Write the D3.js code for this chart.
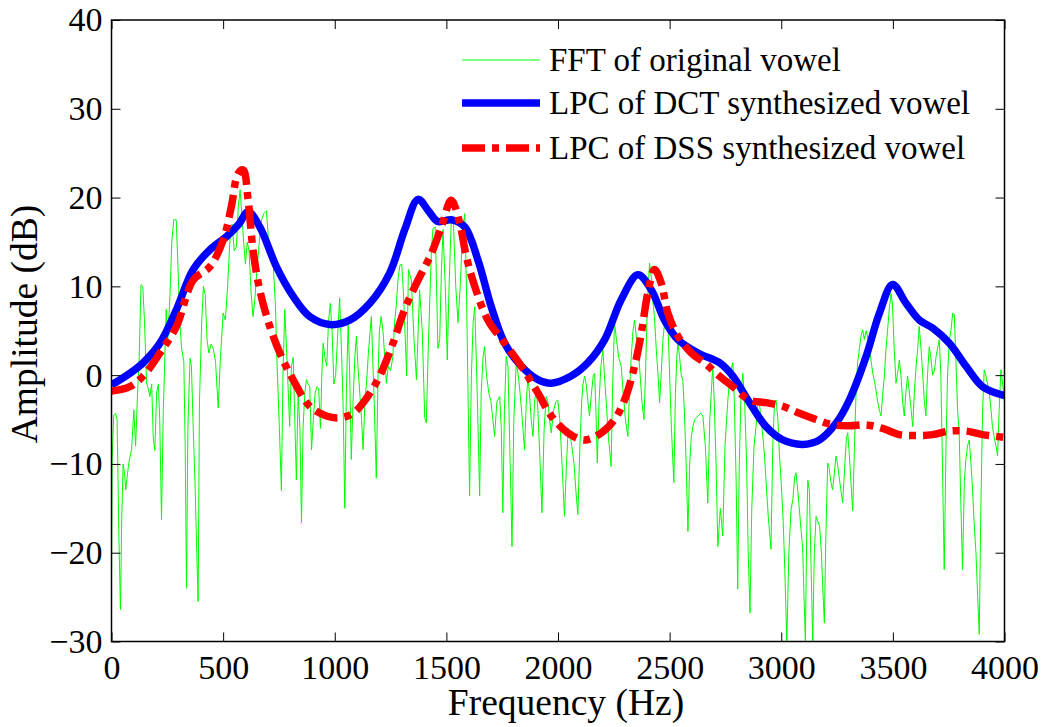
<!DOCTYPE html>
<html>
<head>
<meta charset="utf-8">
<script src="https://cdn.jsdelivr.net/npm/d3@7"></script>
<style>
  body { margin: 0; background: #fff; }
  svg { display: block; }
</style>
</head>
<body>
<script>
(function(window){
    'use strict'

    // ---- data ----
    var xTicks = [0, 500, 1000, 1500, 2000, 2500, 3000, 3500, 4000];
    var yTicks = [-30, -20, -10, 0, 10, 20, 30, 40];

    var seriesNames = ['FFT of original vowel', 'LPC of DCT synthesized vowel', 'LPC of DSS synthesized vowel'];

    var fftFreq = [0,3,10,18,25,33,40,46,52,58,64,72,80,90,100,108,116,124,132,140,148,157,165,172,180,187,194,202,210,216,224,232,245,252,262,270,279,290,298,306,314,324,330,336,342,352,358,366,374,382,388,394,404,412,420,428,436,446,456,466,478,488,500,510,520,530,540,550,560,568,576,584,592,600,608,616,626,634,642,652,662,672,682,694,704,714,724,734,742,752,761,768,776,784,792,798,806,814,820,828,836,844,851,858,866,873,880,888,896,904,912,920,928,936,942,948,956,964,972,980,988,996,1004,1012,1022,1030,1038,1045,1052,1060,1067,1074,1082,1090,1097,1104,1112,1120,1127,1135,1142,1152,1164,1170,1178,1186,1194,1200,1208,1216,1224,1231,1240,1250,1260,1268,1276,1284,1292,1300,1308,1316,1322,
        1330,1343,1355,1366,1380,1392,1403,1410,1420,1433,1440,1450,1456,1462,1470,1478,1485,1495,1504,1512,1522,1532,1542,1552,1562,1572,1582,1590,1597,1604,1612,1620,1627,1636,1642,1649,1656,1664,1671,1680,1690,1700,1708,1716,1726,1739,1746,1753,1760,1768,1776,1784,1794,1802,1813,1822,1830,1840,1850,1858,1865,1872,1880,1888,1895,1903,1910,1920,1928,1938,1947,1955,1962,1970,1980,1990,1999,2008,2018,2029,2038,2046,2052,2062,2072,2080,2089,2098,2106,2112,2119,2126,2134,2141,2150,2158,2164,2170,2176,2184,2192,2201,2208,2216,2226,2238,2244,2253,2262,2272,2283,2292,2302,2313,2320,2328,2336,2343,2352,2360,2368,2376,2385,2392,2400,2410,2418,2426,2432,2440,2448,2455,2462,2470,2478,2485,2492,2500,2508,2519,2526,2532,2537,2545,2552,2559,2566,2574,2582,2590,2597,2604,2612,2620,2630,2641,
        2649,2660,2671,2680,2693,2700,2708,2716,2727,2738,2748,2760,2770,2783,2790,2798,2805,2812,2820,2828,2836,2845,2852,2860,2868,2878,2887,2894,2902,2910,2918,2925,2932,2942,2954,2962,2970,2977,2985,2992,2999,3008,3016,3025,3034,3044,3052,3060,3066,3074,3084,3096,3102,3108,3114,3119,3126,3134,3141,3148,3156,3164,3172,3180,3186,3193,3200,3208,3215,3222,3230,3238,3245,3252,3262,3275,3285,3292,3298,3305,3312,3320,3328,3335,3342,3350,3358,3365,3372,3380,3390,3400,3410,3420,3432,3440,3447,3455,3462,3469,3476,3484,3492,3498,3506,3514,3520,3529,3536,3544,3551,3558,3566,3574,3582,3589,3596,3604,3611,3618,3626,3634,3641,3648,3655,3663,3670,3678,3686,3693,3700,3708,3715,3722,3730,3738,3745,3753,3760,3768,3775,3782,3790,3797,3804,3812,3820,3827,3834,3842,3850,3857,3864,3872,3880,3887,3894,3902,3909,3916,3924,3932,3940,3946,3954,3962,3969,3976,3984,3992,4000];
    var fftAmp = [-22.7,-9.5,-4.5,-4.3,-5,-18,-26.4,-16,-10,-11,-12.9,-11,-9.5,-8.4,-3.9,-8,-2.5,2,10.2,10,6,-0.9,-1.5,-2.4,-1,-7,-8.5,-2,-1,-5,-16.3,-4,7.4,4,9,15,17.5,17.5,12,6,3,1.5,-8,-24,-6,1.9,1,-6,-12,-20,-25.5,-3,6,10,9,4,2.5,3.5,3,1.5,-3.7,2,7,6.2,10,15,17,14,14.5,19,20.9,18,15,12.5,15,14,9,6.6,8.5,12,15,17.5,18.2,18.5,15,13,12.6,8,1,-6,-13,0,7.4,3,-2,-5.8,1,2,-4,-11.8,-2,-6,-16.6,-6,-2,-0.5,-1,-1.2,-8.4,-5,-2,-1.3,-1.5,-6,0,3.6,2,1,6,8.1,5,-1,0,4,8.7,3,-4,-15,-2,5.9,0,-9.5,-3,2,4.4,1,-2,-5,-8.4,-3,-1,3,6.6,2,-4,-11.6,0,5,6.6,5,2,-0.9,1,0.5,2,5.9,8,11,12.4,12.5,9,4,-0.1,
        11.9,10.7,4,-0.5,9.6,5,-4.8,-5.4,4,14,16.5,16.7,10,3,4,12,16.4,10,1.7,10,17.5,17,10,5.9,10,16,18.2,10,-2,-13.6,0,6,7.7,0,-6,-13.6,-2,2,3.2,0,-2,-3,-5,-6.9,-3,-2.4,-6,-15.5,-4,2.1,1,-8,-19.3,-5,1.4,0,-2,-5,-8.4,-3,-0.1,-2,-5,-6.9,-3,-1.6,-4,-10,-15.5,-6,-2.4,-3,-5,-6.5,-4,-3,-2.8,-5,-10,-15.9,-10,-6,-6.5,-8,-10,-13,-15.7,-8,-3,-1,-0.1,-1,-3,-4.6,-2,0,0.2,-4,-9.9,-3,1,2.9,0,-3,-7,-10.3,-2,5.9,4,2,1,-2,-5,-6.9,-2,2,5,6.2,4,2.8,0,-3,-5,0,8,12.6,11,8,6.6,3,0,-3.1,0,4,6,7.7,6,0,-6,-12.1,-2,2,3.6,2,0,-0.5,-4,-10,-17.6,-10,-7,-5.8,-5,-4.8,-4.5,-4.3,
        -4.6,-8,-14.4,-5,1,-3,-10,-19.3,-15,-18.1,-8,-3.1,0,1.4,-3,-12,-24.1,-10,-2,0.2,-3,-10,-20,-26.8,-15,-8,-5.8,-3.5,-3.1,-5,-7,-9.1,-12,-16,-19.6,-8,-3,-2.8,-5,-9,-11.8,-16,-22,-30,-20,-15.1,-14,-11.5,-11,-13,-16,-19.6,-25,-30,-18,-11.8,-13,-22,-30,-20,-15.9,-16.5,-17,-20,-24,-27.9,-18,-9.9,-10.5,-12,-12.9,-11,-9.1,-10,-12,-14.4,-10,-7,-6.5,-9,-12,-15.3,-8,-2,1.4,3,4.5,5.1,4,5,4,2,0.2,-1,-3,-4,-4.6,-2,0,2.9,5,7.5,9.2,8,3,-0.9,0,1.7,0,-3,-4.6,-2,-0.1,-2,-4,-5.8,-2,1,3,5.5,3,0,-3,-4.6,0,3.2,2,0,0.5,2,3,4,0,-10,-21.9,-8,0,4,5,7,6.8,2,-4,-6.5,-14,-21.9,-12,-9.5,-8,-7.3,-10,-13,-16.6,-20,-25,-29.2,-15,-4,0.6,0,-1,-2,-4,-5.8,-7,-8,-9.1,-4,0.6,-1,-3.1];

    var dctFreq = [0,82,142,217,291,366,440,515,570,612,664,739,813,888,978,1067,1157,1246,1315,1373,1420,1462,1522,1582,1641,1701,1761,1836,1910,1970,2059,2134,2209,2283,2358,2418,2477,2537,2626,2723,2783,2858,2932,3007,3096,3171,3246,3305,3380,3440,3499,3559,3619,3678,3753,3828,3902,4000];
    var dctAmp = [-1.1,0.2,1.4,3.6,7.4,11.9,14.1,15.6,17,18.4,16.7,12.2,8.9,6.6,5.7,6.2,8.1,11.5,16.5,19.8,18.5,17.3,17.5,16.7,13,7.7,3.6,1.0,-0.5,-0.9,-0.1,1.4,4.0,8.5,11.3,9.6,6.2,4.0,2.5,1.4,-0.1,-3.1,-5.8,-7.3,-7.8,-7.3,-5.4,-2.8,2.1,7.0,10.2,8.1,6.2,5.3,3.6,1.0,-1.3,-2.3];

    var dssFreq = [0,82,142,217,291,366,440,500,537,567,590,612,634,664,709,754,813,888,963,1022,1082,1142,1201,1261,1313,1373,1433,1478,1522,1560,1589,1627,1686,1761,1836,1910,1970,2044,2119,2194,2253,2298,2343,2373,2402,2432,2462,2492,2537,2597,2656,2709,2783,2858,2932,3007,3082,3156,3231,3305,3380,3454,3529,3604,3678,3753,3828,3902,4000];
    var dssAmp = [-1.8,-1.3,-0.1,2.5,5.5,10.7,12.2,15.2,19,22.7,23.1,19.7,14.1,9.6,5.5,2.5,-0.5,-3.5,-4.6,-4.8,-4.3,-2.6,-0.1,3.6,7.4,10.7,13.7,16.7,19.7,17.1,13.4,10.0,6.2,3.6,1.0,-2.0,-4.6,-6.5,-7.3,-6.5,-5.0,-2.8,1.0,4.7,9.2,11.9,10.4,7.0,4.4,2.5,1.4,0.2,-1.3,-2.8,-3.1,-3.5,-4.3,-5.0,-5.6,-5.7,-5.6,-6.0,-6.7,-6.8,-6.7,-6.3,-6.3,-6.7,-7.0];

    // ---- layout ----
    var W = 1044, H = 727;
    var plot = { left: 111.5, right: 1004.5, top: 20, bottom: 641.5 };
    var serif = "'Liberation Serif'";

    var x = d3.scaleLinear().domain([0, 4000]).range([plot.left, plot.right]);
    var y = d3.scaleLinear().domain([-30, 40]).range([plot.bottom, plot.top]);

    var svg = d3.select('body').append('svg')
        .attr('width', W)
        .attr('height', H);

    svg.append('rect').attr('width', W).attr('height', H).attr('fill', '#fff');

    svg.append('clipPath').attr('id', 'plotclip')
        .append('rect')
        .attr('x', plot.left).attr('y', plot.top)
        .attr('width', plot.right - plot.left)
        .attr('height', plot.bottom - plot.top);

    function zipSeries(fs, as) {
        return fs.map(function(f, i) { return [f, as[i]]; });
    }

    var lineStraight = d3.line()
        .x(function(d) { return x(d[0]); })
        .y(function(d) { return y(d[1]); });

    var lineSmooth = d3.line()
        .x(function(d) { return x(d[0]); })
        .y(function(d) { return y(d[1]); })
        .curve(d3.curveCatmullRom.alpha(0.5));

    var g = svg.append('g').attr('clip-path', 'url(#plotclip)');

    var styles = [
        { stroke: '#00ff00', width: 1, dash: null },
        { stroke: '#0000ff', width: 7.5, dash: null },
        { stroke: '#ff0000', width: 7.5, dash: '23,7,7,7' }
    ];

    g.append('path')
        .datum(zipSeries(fftFreq, fftAmp))
        .attr('d', lineStraight)
        .attr('fill', 'none')
        .attr('stroke', styles[0].stroke)
        .attr('stroke-width', styles[0].width)
        .attr('stroke-linejoin', 'round');

    g.append('path')
        .datum(zipSeries(dctFreq, dctAmp))
        .attr('d', lineSmooth)
        .attr('fill', 'none')
        .attr('stroke', styles[1].stroke)
        .attr('stroke-width', styles[1].width)
        .attr('stroke-linejoin', 'round');

    g.append('path')
        .datum(zipSeries(dssFreq, dssAmp))
        .attr('d', lineSmooth)
        .attr('fill', 'none')
        .attr('stroke', styles[2].stroke)
        .attr('stroke-width', styles[2].width)
        .attr('stroke-dasharray', styles[2].dash)
        .attr('stroke-linecap', 'butt');

    // ---- axes (ticks inside, box all round) ----
    var tickLen = 9;
    var fmt = d3.format('d');

    function styleAxis(sel, fontSize) {
        sel.attr('font-family', null).attr('font-size', null);
        sel.select('.domain').remove();
        sel.selectAll('.tick line').attr('stroke', '#000').attr('stroke-width', 1);
        sel.selectAll('.tick text')
            .attr('fill', '#000')
            .style('font-family', serif)
            .style('font-size', fontSize + 'px');
    }

    svg.append('g')
        .attr('transform', 'translate(0,' + plot.bottom + ')')
        .call(d3.axisBottom(x).tickValues(xTicks).tickFormat(fmt).tickSize(-tickLen).tickPadding(13))
        .call(styleAxis, 34);

    svg.append('g')
        .attr('transform', 'translate(0,' + plot.top + ')')
        .call(d3.axisTop(x).tickValues(xTicks).tickSize(-tickLen).tickFormat(''))
        .call(styleAxis, 34);

    svg.append('g')
        .attr('transform', 'translate(' + plot.left + ',0)')
        .call(d3.axisLeft(y).tickValues(yTicks).tickFormat(fmt).tickSize(-tickLen).tickPadding(9))
        .call(styleAxis, 34);

    svg.append('g')
        .attr('transform', 'translate(' + plot.right + ',0)')
        .call(d3.axisRight(y).tickValues(yTicks).tickSize(-tickLen).tickFormat(''))
        .call(styleAxis, 34);

    svg.append('rect')
        .attr('x', plot.left).attr('y', plot.top)
        .attr('width', plot.right - plot.left)
        .attr('height', plot.bottom - plot.top)
        .attr('fill', 'none')
        .attr('stroke', '#000')
        .attr('stroke-width', 1.5);

    // ---- axis labels ----
    svg.append('text')
        .attr('x', 566)
        .attr('y', 715)
        .attr('text-anchor', 'middle')
        .style('font-family', serif)
        .style('font-size', '37.5px')
        .text('Frequency (Hz)');

    svg.append('text')
        .attr('transform', 'translate(37,324) rotate(-90)')
        .attr('text-anchor', 'middle')
        .style('font-family', serif)
        .style('font-size', '37.5px')
        .text('Amplitude (dB)');

    // ---- legend ----
    var legendX0 = 462, legendX1 = 540, legendTextX = 549;
    var legendRows = [60, 103, 148];

    var lg = svg.append('g').attr('class', 'legend');
    seriesNames.forEach(function(name, i) {
        var s = styles[i];
        var ln = lg.append('line')
            .attr('x1', legendX0).attr('x2', legendX1)
            .attr('y1', legendRows[i]).attr('y2', legendRows[i])
            .attr('stroke', s.stroke)
            .attr('stroke-width', s.width);
        if (s.dash) ln.attr('stroke-dasharray', s.dash);
        lg.append('text')
            .attr('x', legendTextX)
            .attr('y', legendRows[i] + 11)
            .style('font-family', serif)
            .style('font-size', '33px')
            .text(name);
    });

})(window);
</script>
</body>
</html>
